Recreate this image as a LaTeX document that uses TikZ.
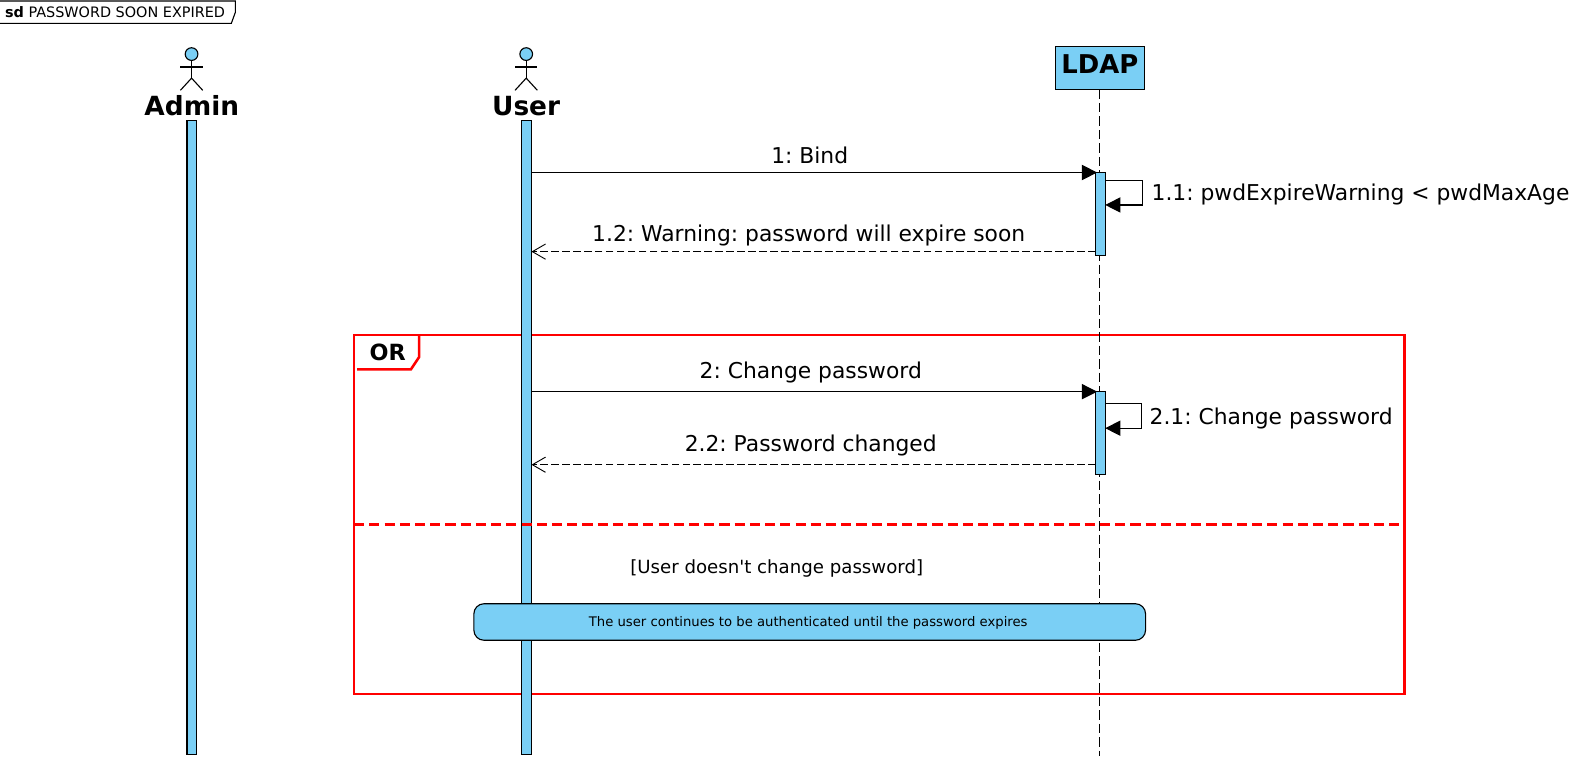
\documentclass[tikz,border=0pt]{standalone}
\usepackage{fontspec}
\setmainfont{DejaVu Sans}
\newfontfamily\rawf{DejaVu Sans}
\usetikzlibrary{arrows.meta,calc}
\definecolor{pblue}{HTML}{7ACFF5}
\definecolor{pred}{HTML}{FF0000}
\newcommand{\fs}[1]{\fontsize{#1}{#1}\selectfont\frenchspacing}
\tikzset{
  x=1pt,y=-1pt,
  plain/.style={inner sep=0pt,outer sep=0pt},
  bar/.style={draw=black,fill=pblue,line width=1.1pt,inner sep=0pt,outer sep=0pt,minimum width=9.5pt},
  head/.style={circle,draw=black,fill=pblue,line width=1.1pt,minimum size=12.5pt,inner sep=0pt,outer sep=0pt},
  limb/.style={draw=black,line width=1.1pt},
  msg/.style={draw=black,line width=1.1pt,-{Triangle[length=15pt,width=15pt]}},
  ret/.style={draw=black,line width=1.1pt,dash pattern=on 7.5pt off 3.3pt,-{Straight Barb[length=13pt,width=15pt,line width=0.9pt]}},
  lifeline/.style={draw=black,line width=1.1pt,dash pattern=on 9.5pt off 3.8pt},
  msglabel/.style={plain,font=\fs{21.5},text=black},
  actorlabel/.style={plain,anchor=base,font=\bfseries\fs{26},text=black},
  frameline/.style={draw=pred,line width=2.5pt},
}
\begin{document}
\begin{tikzpicture}
\useasboundingbox (0,0) rectangle (1568,766.8);
% title tab
\coordinate (tt) at (232,1);
\draw[draw=black,line width=1.1pt] (0,1) -- (tt) -- (232,12) -- (228,23) -- (0,23);
\node[plain,anchor=base west,font=\fs{14.2}] (title) at (5,17) {\textbf{sd} PASSWORD SOON EXPIRED};
% participants
\node[head] (ah) at (188.8,53.3) {};
\node[head] (uh) at (518.6,53.3) {};
\foreach \h/\c in {ah/188.8,uh/518.6}{
  \draw[limb] (\h.south) -- (\c,77);
  \draw[limb] (\c-11,66) -- (\c+11,66);
  \draw[limb] (\c-11,89) -- (\c,77) -- (\c+11,89);
}
\node[actorlabel] (al) at (189,114) {Admin};
\node[actorlabel] (ul) at (518.5,114) {User};
\node[draw=black,fill=pblue,line width=1.1pt,minimum width=88pt,minimum height=42pt,inner sep=0pt,outer sep=0pt] (ldap) at (1084,67) {};
\node[plain,anchor=base,font=\bfseries\fs{25.5}] (ldapl) at (1084,72.2) {LDAP};
\coordinate (lend) at (1083.5,745);
% combined fragment (below the bars)
\draw[frameline] (349,330) rectangle (1384,684);
\node[plain,font=\bfseries\fs{22}] (orl) at (382,347) {OR};
\draw[frameline] (413,331) -- (413,352) -- (405,364) -- (352,364);
% lifelines and bars
\draw[lifeline] (ldap.south -| lend) -- (lend);
\node[bar,minimum height=625pt] (abar) at (189,431.5) {};
\node[bar,minimum height=625pt] (ubar) at (519,431.5) {};
\draw[draw=pred,line width=2.5pt,dash pattern=on 10pt off 5pt] (349,517) -- (1384,517);
% exchange 1
\node[bar,minimum height=82pt] (a1) at (1084.5,211) {};
\coordinate (m1) at (0,170);
\coordinate (s1a) at (0,178);
\coordinate (s1b) at (0,202);
\coordinate (r1) at (0,248);
\coordinate (sx) at (1126,0);
\draw[msg] (ubar.east |- m1) -- ([xshift=1.5pt]a1.west |- m1);
\draw[msg] (a1.east |- s1a) -- (sx |- s1a) -- (sx |- s1b) -- (a1.east |- s1b);
\draw[ret] (a1.west |- r1) -- (ubar.east |- r1);
\node[msglabel] (l1) at (798,153.2) {1: Bind};
\node[msglabel,anchor=west] (l11) at (1135,191.5) {1.1: pwdExpireWarning < pwdMaxAge};
\node[msglabel] (l12) at (797,232.5) {1.2: Warning: password will expire soon};
% exchange 2
\node[bar,minimum height=82pt] (a2) at (1084.5,427) {};
\coordinate (m2) at (0,386);
\coordinate (s2a) at (0,398);
\coordinate (s2b) at (0,422);
\coordinate (r2) at (0,458);
\coordinate (sy) at (1125,0);
\draw[msg] (ubar.east |- m2) -- ([xshift=1.5pt]a2.west |- m2);
\draw[msg] (a2.east |- s2a) -- (sy |- s2a) -- (sy |- s2b) -- (a2.east |- s2b);
\draw[ret] (a2.west |- r2) -- (ubar.east |- r2);
\node[msglabel] (l2) at (799,367) {2: Change password};
\node[msglabel,anchor=west] (l21) at (1133,412) {2.1: Change password};
\node[msglabel] (l22) at (799,439) {2.2: Password changed};
% alternative
\node[plain,font=\rawf\fs{17.9}] (guard) at (765.5,560) {[User doesn't change password]};
\node[draw=black,fill=pblue,line width=1.1pt,rounded corners=10pt,minimum width=662pt,minimum height=36pt,inner sep=0pt,outer sep=0pt] (div) at (798,613) {};
\node[plain,font=\fs{13}] (divl) at (796.5,613.8) {The user continues to be authenticated until the password expires};
\end{tikzpicture}
\end{document}
